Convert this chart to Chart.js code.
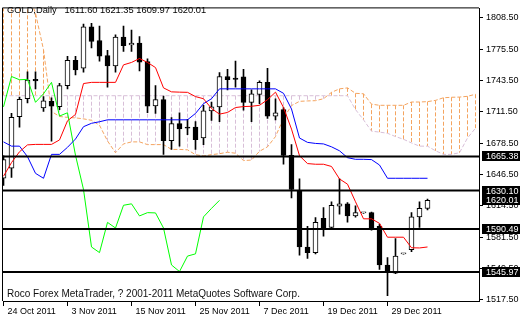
<!DOCTYPE html>
<html>
<head>
<meta charset="utf-8">
<script src="https://cdn.jsdelivr.net/npm/chart.js@4.4.1/dist/chart.umd.min.js"></script>
<style>
    html, body { margin: 0; padding: 0; background: #fff; }
    #wrap { position: relative; width: 520px; height: 320px; }
    .note { position: absolute; font-family: 'Liberation Sans', Arial, sans-serif; color: #000; white-space: nowrap; line-height: 12px; }
    #title { left: 7px; top: 4px; font-size: 9.3px; }
    #title span { margin-left: 8px; }
    #copy { left: 7px; top: 288px; font-size: 10px; color: #111; }
</style>
</head>
<body>
<div id="wrap">
    <canvas id="chart"></canvas>
    <div class="note" id="title">GOLD,Daily<span id="ohlc"></span></div>
    <div class="note" id="copy">Roco Forex MetaTrader, ? 2001-2011 MetaQuotes Software Corp.</div>
</div>
<script>
// --- DATA ---
const dateTicks = [0, 8, 16, 24, 32, 40, 48];
const dateLabels = ['24 Oct 2011', '3 Nov 2011', '15 Nov 2011', '25 Nov 2011', '7 Dec 2011', '19 Dec 2011', '29 Dec 2011'];
const priceTicks = [1808.5, 1775.5, 1743.5, 1711.5, 1678.5, 1646.5, 1614.5, 1581.5, 1549.5, 1517.5];

const opens = [1642.8, 1653.3, 1706.4, 1725.0, 1745.0, 1715.4, 1722.3, 1716.9, 1738.5, 1764.6,
    1756.5, 1799.4, 1785.2, 1769.6, 1758.8, 1788.6, 1780.5, 1782.5, 1763.3, 1717.6,
    1724.0, 1681.7, 1699.3, 1695.6, 1695.6, 1684.4, 1712.5, 1716.6, 1748.0, 1746.3,
    1747.6, 1721.3, 1729.4, 1741.9, 1707.1, 1713.8, 1666.5, 1630.3, 1571.8, 1566.0,
    1601.5, 1592.1, 1614.1, 1616.4, 1603.9, 1607.0, 1607.3, 1593.1, 1553.2, 1544.7,
    1564.7, 1569.1, 1602.9, 1611.60];
const highs = [1666.1, 1709.8, 1726.7, 1752.7, 1752.7, 1727.3, 1726.0, 1740.9, 1768.9, 1768.9,
    1802.1, 1802.8, 1800.1, 1775.0, 1790.9, 1800.1, 1796.0, 1789.2, 1766.3, 1738.5,
    1727.7, 1705.4, 1710.5, 1703.7, 1701.4, 1718.2, 1721.6, 1752.1, 1755.4, 1763.9,
    1755.4, 1734.1, 1743.6, 1756.5, 1725.0, 1715.9, 1677.6, 1642.1, 1593.1, 1602.2,
    1612.4, 1618.5, 1642.1, 1617.8, 1614.4, 1607.4, 1607.8, 1595.4, 1560.9, 1580.4,
    1565.1, 1607.3, 1618.5, 1621.35];
const lows = [1635.4, 1643.8, 1695.6, 1720.6, 1735.2, 1711.8, 1681.1, 1713.8, 1735.2, 1749.7,
    1752.4, 1777.5, 1763.9, 1736.9, 1752.4, 1774.0, 1774.0, 1753.7, 1710.5, 1709.8,
    1667.5, 1672.6, 1676.0, 1687.8, 1672.6, 1677.6, 1702.7, 1701.4, 1734.1, 1736.9,
    1713.1, 1701.4, 1719.9, 1704.7, 1703.0, 1657.3, 1622.5, 1563.4, 1559.9, 1564.7,
    1583.0, 1591.1, 1605.6, 1597.5, 1602.5, 1606.6, 1589.1, 1548.5, 1521.4, 1544.1,
    1564.3, 1567.0, 1592.1, 1609.97];
const closes = [1662.1, 1705.7, 1724.3, 1744.3, 1743.3, 1722.7, 1717.2, 1738.5, 1764.6, 1754.7,
    1799.4, 1784.2, 1768.9, 1758.8, 1788.6, 1779.8, 1782.5, 1762.9, 1717.2, 1724.0,
    1681.7, 1699.3, 1693.9, 1694.6, 1682.7, 1712.5, 1716.6, 1748.0, 1744.6, 1745.0,
    1721.3, 1730.1, 1741.9, 1707.1, 1710.5, 1666.5, 1631.2, 1571.8, 1566.0, 1597.2,
    1591.4, 1614.9, 1616.4, 1603.9, 1607.3, 1607.0, 1591.4, 1553.2, 1546.4, 1562.4,
    1564.7, 1602.9, 1611.7, 1620.01];

// Ichimoku lines
const tenkan = [1644.9, 1659.0, 1670.2, 1677.3, 1677.8, 1677.8, 1677.8, 1682.4, 1702.2, 1708.8,
    1740.7, 1741.9, 1741.9, 1741.9, 1741.9, 1760.0, 1762.5, 1766.6, 1762.5, 1757.2,
    1736.2, 1732.1, 1731.8, 1731.6, 1727.2, 1725.0, 1714.9, 1709.1, 1710.8, 1715.9,
    1716.9, 1717.2, 1718.2, 1724.0, 1731.8, 1715.9, 1693.6, 1666.1, 1658.0, 1657.3,
    1657.3, 1655.0, 1642.1, 1636.7, 1618.5, 1600.9, 1600.9, 1596.2, 1581.9, 1581.9,
    1581.9, 1571.0, 1570.8, 1571.8];
const kijun = [1680.4, 1676.0, 1676.0, 1665.1, 1647.9, 1642.8, 1667.5, 1667.5, 1674.8, 1683.4,
    1696.1, 1699.6, 1701.2, 1703.2, 1703.2, 1703.2, 1703.2, 1703.2, 1703.2, 1703.2,
    1703.2, 1703.2, 1703.2, 1703.2, 1709.8, 1719.9, 1725.0, 1735.2, 1735.2, 1735.2,
    1735.2, 1735.2, 1735.2, 1735.2, 1735.2, 1730.6, 1714.4, 1684.4, 1679.9, 1678.8,
    1678.3, 1675.3, 1671.2, 1664.1, 1662.4, 1662.4, 1662.1, 1656.5, 1642.8, 1642.8,
    1642.8, 1642.8, 1642.8, 1642.8];
const chikou = [1716.6, 1748.0, 1744.6, 1745.0, 1721.3, 1730.1, 1741.9, 1707.1, 1710.5, 1666.5,
    1631.2, 1571.8, 1566.0, 1597.2, 1591.4, 1614.9, 1616.4, 1603.9, 1607.3, 1607.0,
    1591.4, 1553.2, 1546.4, 1562.4, 1564.7, 1602.9, 1611.7, 1620.0];
const spanA = [1838.0, 1838.0, 1838.0, 1836.0, 1813.3, 1775.7, 1711.8, 1706.7, 1705.7, 1705.2,
    1704.2, 1702.7, 1697.6, 1681.4, 1669.2, 1678.3, 1680.4, 1680.4, 1677.6, 1677.6,
    1677.6, 1672.6, 1672.6, 1672.2, 1667.2, 1665.8, 1667.2, 1668.2, 1669.7, 1668.7,
    1661.1, 1661.6, 1670.7, 1675.3, 1685.9, 1704.7, 1717.9, 1722.3, 1722.7, 1723.0,
    1725.0, 1731.6, 1735.2, 1736.2, 1730.6, 1730.1, 1719.4, 1718.2, 1718.2, 1718.2,
    1718.2, 1721.6, 1721.6, 1722.0, 1723.3, 1726.0, 1726.5, 1726.7, 1727.5, 1729.6];
const spanB = [1728.1, 1728.1, 1728.1, 1728.1, 1728.1, 1728.1, 1728.1, 1728.1, 1728.1, 1728.1,
    1728.1, 1728.1, 1728.1, 1728.1, 1728.1, 1728.1, 1728.1, 1728.1, 1728.1, 1728.1,
    1728.1, 1728.1, 1728.1, 1728.1, 1728.1, 1728.1, 1728.1, 1728.1, 1728.1, 1728.1,
    1728.1, 1728.1, 1728.1, 1728.1, 1728.1, 1728.1, 1728.1, 1728.1, 1728.1, 1728.1,
    1728.1, 1728.1, 1728.1, 1728.1, 1713.8, 1703.2, 1691.5, 1690.5, 1689.3, 1685.9,
    1683.1, 1679.3, 1676.0, 1676.0, 1671.2, 1667.5, 1667.5, 1669.2, 1684.4, 1694.6];

// horizontal lines and right-hand price labels
const levels = [1665.38, 1630.10, 1590.49, 1545.97];
const priceMarks = [1665.38, 1630.10, 1620.01, 1590.49, 1545.97];

// --- CONFIG ---
const FONT = "'Liberation Sans', Arial, sans-serif";
const X_MIN = -0.0625, X_MAX = 59.4375;
const Y_MIN = 1515.98, Y_MAX = 1818.34;
const SPAN_A_COLOR = '#f4a460';
const SPAN_B_COLOR = '#d8bfd8';
const DOT = [4, 2];

const last = opens.length - 1;
document.getElementById('ohlc').textContent =
    [opens[last], highs[last], lows[last], closes[last]].map(v => v.toFixed(2)).join(' ');

const series = arr => arr.map((v, i) => ({ x: i, y: v }));
const isUp = i => closes[i] >= opens[i];

// --- PLUGINS ---
const framePlugin = {
    id: 'frame',
    afterDraw(chart) {
        const { ctx: c, chartArea: a } = chart;
        c.save();
        c.strokeStyle = '#000';
        c.lineWidth = 1;
        c.beginPath();
        c.moveTo(a.left - 0.5, a.bottom);
        c.lineTo(a.left - 0.5, a.top - 0.5);
        c.lineTo(a.right, a.top - 0.5);
        c.stroke();
        c.restore();
    }
};

const priceBoxPlugin = {
    id: 'priceBoxes',
    afterDraw(chart) {
        const { ctx: c, chartArea: a, scales } = chart;
        c.save();
        c.font = `9px ${FONT}`;
        c.textBaseline = 'middle';
        c.textAlign = 'left';
        priceMarks.forEach(v => {
            const y = Math.round(scales.y.getPixelForValue(v));
            c.fillStyle = '#000';
            c.fillRect(a.right + 3, y - 5, chart.width - a.right - 3, 10);
            c.fillStyle = '#fff';
            c.fillText(v.toFixed(2), a.right + 7, y + 0.5);
        });
        c.restore();
    }
};

// --- DATASETS ---
const lineBase = { type: 'line', pointRadius: 0, borderWidth: 1, tension: 0, fill: false };

// kumo hatching: one dotted vertical stroke per bar between span A and span B
const kumoHatch = spanA.map((a, i) => ({
    ...lineBase, order: 5, borderDash: DOT,
    borderColor: a >= spanB[i] ? SPAN_A_COLOR : SPAN_B_COLOR,
    data: [{ x: i, y: Math.max(a, spanB[i]) }, { x: i, y: Math.min(a, spanB[i]) }]
}));

new Chart(document.getElementById('chart'), {
    type: 'line',
    data: {
        datasets: [
            ...levels.map(v => ({
                ...lineBase, order: 0, borderColor: '#000', borderWidth: 2,
                data: [{ x: X_MIN - 1, y: v }, { x: X_MAX + 1, y: v }]
            })),
            { ...lineBase, order: 1, borderColor: '#ff0000', data: series(tenkan) },
            { ...lineBase, order: 1, borderColor: '#0000ff', data: series(kijun) },
            { ...lineBase, order: 1, borderColor: '#00ff00', data: series(chikou) },
            {
                type: 'bar', order: 2, grouped: false, barThickness: 5, minBarLength: 1,
                borderWidth: 1, borderSkipped: false, borderColor: '#000',
                backgroundColor: c => isUp(c.dataIndex) ? '#fff' : '#000',
                data: opens.map((o, i) => ({ x: i, y: [o, closes[i]] }))
            },
            {
                type: 'bar', order: 3, grouped: false, barThickness: 1, minBarLength: 1,
                borderWidth: 0, backgroundColor: '#000',
                data: lows.map((l, i) => ({ x: i, y: [l, highs[i]] }))
            },
            { ...lineBase, order: 4, borderColor: SPAN_A_COLOR, borderDash: DOT, data: series(spanA) },
            { ...lineBase, order: 4, borderColor: SPAN_B_COLOR, borderDash: DOT, data: series(spanB) },
            ...kumoHatch
        ]
    },
    options: {
        responsive: true,
        maintainAspectRatio: false,
        animation: false,
        events: [],
        layout: { padding: { left: 3, top: 3, right: 0, bottom: 0 } },
        plugins: {
            legend: { display: false },
            tooltip: { enabled: false }
        },
        scales: {
            x: {
                type: 'linear',
                min: X_MIN,
                max: X_MAX,
                offset: false,
                grid: { drawOnChartArea: false, drawTicks: true, tickLength: 5, color: '#000', offset: false },
                border: { display: true, color: '#000' },
                afterBuildTicks: s => { s.ticks = dateTicks.map(v => ({ value: v })); },
                afterFit: s => { s.height = 19; },
                ticks: {
                    autoSkip: false,
                    maxRotation: 0,
                    align: 'start',
                    labelOffset: 4,
                    padding: 0,
                    color: '#000',
                    font: { family: FONT, size: 9 },
                    callback: (v, i) => dateLabels[i]
                }
            },
            y: {
                position: 'right',
                min: Y_MIN,
                max: Y_MAX,
                grid: { drawOnChartArea: false, drawTicks: true, tickLength: 4, color: '#000' },
                border: { display: true, color: '#000' },
                afterBuildTicks: s => { s.ticks = priceTicks.map(v => ({ value: v })); },
                afterFit: s => { s.width = 41; },
                ticks: {
                    autoSkip: false,
                    padding: 3,
                    color: '#000',
                    font: { family: FONT, size: 9 },
                    callback: v => v.toFixed(2)
                }
            }
        }
    },
    plugins: [framePlugin, priceBoxPlugin]
});
</script>
</body>
</html>
